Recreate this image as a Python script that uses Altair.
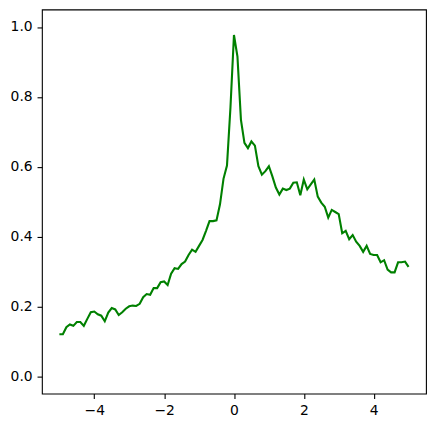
import altair as alt
import pandas as pd

x_values = [
    -5.0, -4.9, -4.8, -4.7, -4.6, -4.5, -4.4, -4.3, -4.2, -4.1,
    -4.0, -3.9, -3.8, -3.7, -3.6, -3.5, -3.4, -3.3, -3.2, -3.1,
    -3.0, -2.9, -2.8, -2.7, -2.6, -2.5, -2.4, -2.3, -2.2, -2.1,
    -2.0, -1.9, -1.8, -1.7, -1.6, -1.5, -1.4, -1.3, -1.2, -1.1,
    -1.0, -0.9, -0.8, -0.7, -0.6, -0.5, -0.4, -0.3, -0.2, -0.1,
    0.0, 0.1, 0.2, 0.3, 0.4, 0.5, 0.6, 0.7, 0.8, 0.9,
    1.0, 1.1, 1.2, 1.3, 1.4, 1.5, 1.6, 1.7, 1.8, 1.9,
    2.0, 2.1, 2.2, 2.3, 2.4, 2.5, 2.6, 2.7, 2.8, 2.9,
    3.0, 3.1, 3.2, 3.3, 3.4, 3.5, 3.6, 3.7, 3.8, 3.9,
    4.0, 4.1, 4.2, 4.3, 4.4, 4.5, 4.6, 4.7, 4.8, 4.9,
    5.0,
]

y_values = [
    0.120, 0.120, 0.140, 0.148, 0.144, 0.155, 0.155, 0.144, 0.164, 0.183,
    0.185, 0.177, 0.173, 0.157, 0.182, 0.195, 0.191, 0.175, 0.183, 0.193,
    0.200, 0.202, 0.201, 0.207, 0.226, 0.235, 0.233, 0.252, 0.252, 0.269,
    0.271, 0.261, 0.293, 0.309, 0.307, 0.321, 0.328, 0.347, 0.362, 0.356,
    0.373, 0.390, 0.416, 0.444, 0.444, 0.446, 0.492, 0.565, 0.603, 0.770,
    0.977, 0.915, 0.734, 0.668, 0.653, 0.672, 0.660, 0.601, 0.577, 0.587,
    0.601, 0.572, 0.540, 0.520, 0.537, 0.533, 0.537, 0.554, 0.555, 0.518,
    0.563, 0.535, 0.549, 0.563, 0.514, 0.497, 0.485, 0.454, 0.476, 0.470,
    0.464, 0.409, 0.416, 0.392, 0.404, 0.385, 0.373, 0.356, 0.373, 0.350,
    0.347, 0.347, 0.326, 0.332, 0.305, 0.297, 0.297, 0.326, 0.326, 0.328,
    0.313,
]

x_ticks = [-4, -2, 0, 2, 4]
y_ticks = [0.0, 0.2, 0.4, 0.6, 0.8, 1.0]

df = pd.DataFrame({"x": x_values, "y": y_values})

axis_common = dict(
    domain=False,
    grid=False,
    ticks=True,
    tickColor="black",
    tickSize=4.9,
    tickWidth=1.1,
    labelColor="black",
    labelFont="DejaVu Sans",
    labelFontSize=13.9,
    labelPadding=4.9,
    title=None,
)

chart = (
    alt.Chart(df)
    .mark_line(color="#008000", strokeWidth=2.1)
    .encode(
        x=alt.X(
            "x:Q",
            scale=alt.Scale(domain=[-5.5, 5.5], nice=False, zero=False),
            axis=alt.Axis(values=x_ticks, format="d", **axis_common),
        ),
        y=alt.Y(
            "y:Q",
            scale=alt.Scale(domain=[-0.05, 1.05], nice=False, zero=False),
            axis=alt.Axis(values=y_ticks, format=".1f", **axis_common),
        ),
    )
    .properties(
        width=385,
        height=385,
        autosize=alt.AutoSizeParams(type="none"),
        padding={"left": 34, "top": 1, "right": 2, "bottom": 30},
        background="white",
    )
    .configure_view(stroke="black", strokeWidth=1.1)
)

chart.save("out.html", embed_options={"renderer": "svg", "actions": False})
